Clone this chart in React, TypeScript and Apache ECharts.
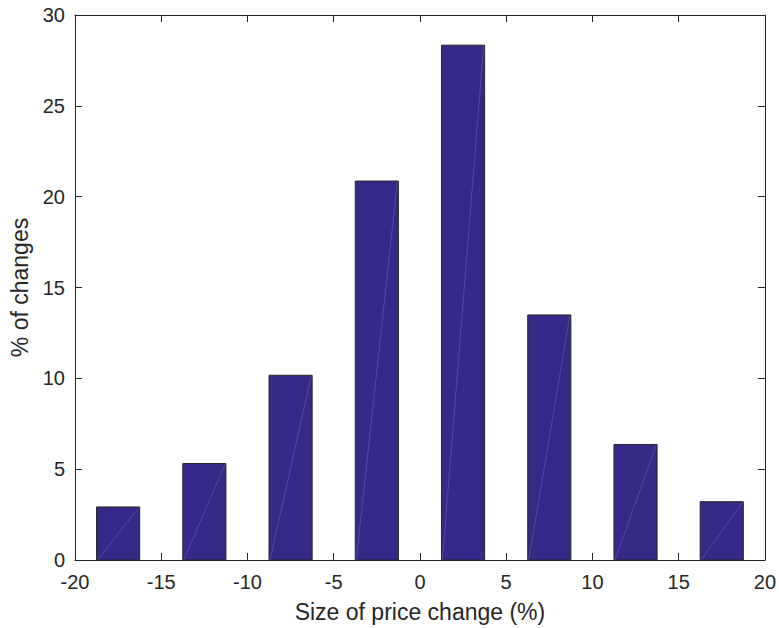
import { useEffect, useRef } from "react";
import * as echarts from "echarts";

// Histogram of price-change sizes (bin centres in %, share of changes in %)
const binCenters = [-17.5, -12.5, -7.5, -2.5, 2.5, 7.5, 12.5, 17.5];
const shares = [2.92, 5.31, 10.17, 20.86, 28.34, 13.49, 6.36, 3.21];
const binWidth = 2.5;

const xRange = { min: -20, max: 20, interval: 5 };
const yRange = { min: 0, max: 30, interval: 5 };

const FONT = '"Liberation Sans", Arial, Helvetica, sans-serif';
const INK = "#262626";

export default function App() {
  const ref = useRef<HTMLDivElement>(null);

  useEffect(() => {
    if (!ref.current) return;
    const chart = echarts.init(ref.current, undefined, { renderer: "svg" });

    const axisLine = { show: true, onZero: false, lineStyle: { color: INK, width: 1 } };
    const axisTick = { show: true, inside: true, length: 7, lineStyle: { color: INK, width: 1 } };

    chart.setOption({
      animation: false,
      backgroundColor: "#ffffff",
      textStyle: { fontFamily: FONT },
      grid: { left: 70, right: 12, top: 15, bottom: 64 },
      xAxis: [
        {
          type: "value",
          ...xRange,
          position: "bottom",
          axisLine,
          axisTick,
          splitLine: { show: false },
          axisLabel: { fontSize: 20, color: INK, margin: 12, fontFamily: FONT },
          name: "Size of price change (%)",
          nameLocation: "middle",
          nameGap: 40,
          nameTextStyle: { fontSize: 23, color: INK, fontFamily: FONT },
        },
        {
          type: "value",
          ...xRange,
          position: "top",
          axisLine,
          axisTick,
          splitLine: { show: false },
          axisLabel: { show: false },
        },
      ],
      yAxis: [
        {
          type: "value",
          ...yRange,
          position: "left",
          axisLine,
          axisTick,
          splitLine: { show: false },
          axisLabel: { fontSize: 20, color: INK, margin: 10, fontFamily: FONT },
          name: "% of changes",
          nameLocation: "middle",
          nameGap: 44,
          nameRotate: 90,
          nameTextStyle: { fontSize: 23, color: INK, fontFamily: FONT },
        },
        {
          type: "value",
          ...yRange,
          position: "right",
          axisLine,
          axisTick,
          splitLine: { show: false },
          axisLabel: { show: false },
        },
      ],
      series: [
        {
          type: "custom",
          xAxisIndex: 0,
          yAxisIndex: 0,
          data: binCenters.map((c, i) => [c, shares[i]]),
          encode: { x: 0, y: 1 },
          renderItem: (_params: any, api: any) => {
            const c = api.value(0);
            const h = api.value(1);
            const p0 = api.coord([c - binWidth / 2, 0]);
            const p1 = api.coord([c + binWidth / 2, h]);
            return {
              type: "group",
              children: [
                {
                  type: "rect",
                  shape: { x: p0[0], y: p1[1], width: p1[0] - p0[0], height: p0[1] - p1[1] },
                  style: { fill: "#352a87", stroke: INK, lineWidth: 1 },
                },
                {
                  type: "line",
                  shape: { x1: p0[0] + 1, y1: p0[1], x2: p1[0] - 1, y2: p1[1] + 1 },
                  style: { stroke: "rgba(150,140,230,0.5)", lineWidth: 0.6 },
                },
              ],
            };
          },
        },
      ],
    });

    return () => chart.dispose();
  }, []);

  return (
    <div
      ref={ref}
      style={{ position: "fixed", left: 0, top: 0, width: 779, height: 628, background: "#fff" }}
    />
  );
}
